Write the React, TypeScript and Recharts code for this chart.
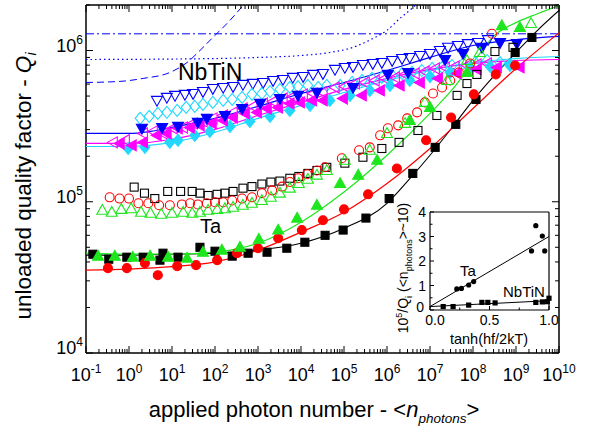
import React from 'react';
import { ComposedChart, Scatter, XAxis, YAxis } from 'recharts';

const FONT = '"Liberation Sans", Arial, Helvetica, sans-serif';
const BLUE = '#0000ff';
const CYAN = '#22d8ff';
const MAGENTA = '#ff00ff';
const GREEN = '#1ee61e';
const RED = '#ff0000';
const BLACK = '#000000';

// ---------------- main chart data (x stored as log10 of photon number) ----------------
// Ta, filled squares (black) + fit
const taSqFilledLogN = [-0.84, -0.47, -0.05, 0.33, 0.72, 0.79, 1.14, 1.65, 2.0, 2.4, 2.77, 3.21, 3.67, 4.09, 4.56, 4.98, 5.51, 6.05, 6.6, 7.12, 7.6, 8.07, 8.98, 9.37];
const taSqFilledQ = [4.5e4, 4.17e4, 4.3e4, 4.3e4, 4.11e4, 4.57e4, 4.3e4, 5.0e4, 4.71e4, 4.37e4, 4.57e4, 4.64e4, 4.93e4, 5.4e4, 6.0e4, 6.5e4, 7.8e4, 1.05e5, 1.54e5, 2.29e5, 3.25e5, 4.75e5, 9.7e5, 1.22e6];
const taSqFitLogN = [-1, 0, 1, 2, 3, 4, 5, 6, 6.5, 7, 7.5, 8, 8.5, 9, 9.5, 10];
const taSqFitQ = [4.44e4, 4.44e4, 4.5e4, 4.57e4, 4.79e4, 5.32e4, 6.68e4, 9.77e4, 1.39e5, 2.03e5, 3.06e5, 4.68e5, 6.84e5, 9.7e5, 1.36e6, 1.84e6];

// Ta, filled circles (red) + fit
const taCiFilledLogN = [-0.49, -0.05, 0.37, 0.67, 1.12, 1.56, 2.05, 2.51, 3.0, 3.47, 4.02, 4.51, 5.0, 5.56, 6.23, 6.91, 7.49, 8.02, 8.53, 8.98];
const taCiFilledQ = [3.64e4, 3.64e4, 3.93e4, 3.27e4, 3.75e4, 3.81e4, 4.11e4, 4.57e4, 4.93e4, 5.74e4, 6.5e4, 7.55e4, 8.91e4, 1.12e5, 1.66e5, 2.55e5, 3.61e5, 5.13e5, 6.95e5, 7.96e5];
const taCiFitLogN = [-1, 0, 1, 2, 3, 4, 5, 6, 7, 8, 9, 10];
const taCiFitQ = [3.53e4, 3.59e4, 3.72e4, 4.0e4, 4.79e4, 6.3e4, 8.53e4, 1.32e5, 2.25e5, 4.14e5, 7.6e5, 1.31e6];

// Ta, filled triangles (green) + fit
const taTrFilledLogN = [-0.72, -0.33, 0.09, 0.49, 0.91, 1.35, 1.72, 2.16, 2.58, 3.02, 3.47, 3.91, 4.37, 4.91, 5.33, 5.77, 6.53, 7.0, 7.86, 8.67, 9.09];
const taTrFilledQ = [4.37e4, 4.37e4, 4.3e4, 4.37e4, 4.3e4, 4.24e4, 4.64e4, 4.79e4, 5.0e4, 5.65e4, 6.5e4, 7.8e4, 9.48e4, 1.32e5, 1.5e5, 1.88e5, 3.45e5, 4.21e5, 7.16e5, 1.46e6, 1.42e6];
const taTrFitLogN = [-1, 0, 1, 2, 3, 4, 5, 6, 7, 7.5, 8, 8.5, 9, 9.5, 10];
const taTrFitQ = [4.57e4, 4.5e4, 4.5e4, 4.64e4, 5.32e4, 7.33e4, 1.16e5, 2.03e5, 3.84e5, 5.45e5, 8.3e5, 1.26e6, 1.53e6, 1.75e6, 1.98e6];

// Ta, open squares (black)
const taSqOpenLogN = [0.12, 0.36, 0.6, 0.9, 1.2, 1.47, 1.65, 1.84, 2.05, 2.23, 2.42, 2.65, 2.86, 3.09, 3.3, 3.51, 3.74, 3.95, 4.16, 4.37, 4.6, 5.02, 5.44, 5.88, 6.28, 6.72, 7.16, 7.63, 7.86, 8.09, 8.51, 8.93];
const taSqOpenQ = [1.25e5, 1.14e5, 1.05e5, 1.17e5, 1.17e5, 1.17e5, 1.14e5, 1.1e5, 1.12e5, 1.14e5, 1.17e5, 1.23e5, 1.26e5, 1.31e5, 1.35e5, 1.37e5, 1.43e5, 1.47e5, 1.54e5, 1.61e5, 1.69e5, 1.8e5, 1.97e5, 2.25e5, 2.47e5, 2.96e5, 3.72e5, 5.05e5, 6.05e5, 6.95e5, 9.85e5, 1.05e6];

// Ta, open circles (red)
const taCiOpenLogN = [-0.45, -0.22, 0.0, 0.22, 0.45, 0.7, 0.95, 1.23, 1.42, 1.6, 1.81, 2.0, 2.19, 2.4, 2.63, 2.86, 3.09, 3.33, 3.56, 3.74, 3.93, 4.14, 4.37, 4.56, 4.95, 5.35, 5.6, 5.84, 6.02, 6.26, 6.47, 6.7, 6.88, 7.07, 7.28, 7.47, 7.67, 7.93, 8.44];
const taCiOpenQ = [1.07e5, 1.05e5, 1.05e5, 9.77e4, 9.77e4, 9.48e4, 9.48e4, 9.6e4, 9.77e4, 9.6e4, 9.77e4, 9.93e4, 9.93e4, 1.02e5, 1.05e5, 1.07e5, 1.14e5, 1.19e5, 1.26e5, 1.35e5, 1.43e5, 1.52e5, 1.61e5, 1.69e5, 1.94e5, 2.19e5, 2.29e5, 2.75e5, 3.06e5, 3.2e5, 3.56e5, 3.9e5, 4.54e5, 5.2e5, 5.7e5, 6.34e5, 7.16e5, 8.2e5, 1.29e6];

// Ta, open triangles (green)
const taTrOpenLogN = [-0.62, -0.4, -0.18, 0.05, 0.28, 0.5, 0.75, 1.0, 1.26, 1.47, 1.65, 1.84, 2.05, 2.23, 2.42, 2.65, 2.86, 3.09, 3.3, 3.51, 3.74, 3.95, 4.16, 4.37, 4.6, 5.02, 5.6, 6.0, 6.42, 6.88, 7.4, 7.86, 8.16, 9.35];
const taTrOpenQ = [8.79e4, 8.53e4, 8.9e4, 9.0e4, 8.53e4, 8.4e4, 8.27e4, 8.4e4, 8.53e4, 8.4e4, 8.53e4, 8.79e4, 8.9e4, 9.0e4, 9.2e4, 9.48e4, 9.77e4, 1.02e5, 1.07e5, 1.14e5, 1.23e5, 1.32e5, 1.41e5, 1.5e5, 1.61e5, 1.88e5, 2.19e5, 2.83e5, 3.3e5, 4.54e5, 6.34e5, 8.59e5, 9.7e5, 1.51e6];

// NbTiN, open down triangles (blue)
const nbDnOpenLogN = [0.65, 0.88, 1.07, 1.3, 1.49, 1.72, 1.95, 2.19, 2.42, 2.65, 2.88, 3.12, 3.35, 3.58, 3.81, 4.05, 4.28, 4.51, 4.79, 5.02, 5.21, 5.44, 5.67, 5.88, 6.12, 6.35, 6.53, 6.77, 7.0, 7.23, 7.42, 7.65, 7.88, 8.12, 8.35];
const nbDnOpenQ = [4.68e5, 4.9e5, 5.05e5, 5.13e5, 5.2e5, 5.36e5, 5.61e5, 5.7e5, 5.78e5, 5.97e5, 6.06e5, 6.15e5, 6.34e5, 6.44e5, 6.64e5, 6.73e5, 6.95e5, 7.05e5, 7.5e5, 7.73e5, 7.84e5, 8.09e5, 8.21e5, 8.33e5, 8.59e5, 8.85e5, 9.0e5, 9.27e5, 9.56e5, 1.0e6, 1.05e6, 1.08e6, 1.11e6, 1.13e6, 1.18e6];

// NbTiN, filled down triangles (blue) + fit
const nbDnFilledLogN = [0.3, 0.77, 1.14, 1.6, 1.81, 2.23, 2.63, 3.05, 3.51, 3.93, 4.37, 5.21, 6.02, 6.49, 7.35, 7.77, 8.21, 8.63, 9.02];
const nbDnFilledQ = [3.06e5, 3.1e5, 3.15e5, 3.35e5, 3.56e5, 3.72e5, 4.14e5, 4.47e5, 4.82e5, 5.05e5, 5.3e5, 5.7e5, 6.95e5, 7.15e5, 8.7e5, 9.55e5, 1.05e6, 1.13e6, 1.11e6];
const nbBlueFitLogN = [-1, 0, 0.5, 1, 2, 3, 4, 5, 6, 7, 8, 9, 10];
const nbBlueFitQ = [2.83e5, 2.83e5, 2.92e5, 3.1e5, 3.56e5, 4.27e5, 5.2e5, 6.15e5, 7.38e5, 9.0e5, 1.08e6, 1.18e6, 1.24e6];

// NbTiN, open diamonds (cyan)
const nbDiOpenLogN = [0.26, 0.47, 0.67, 0.88, 1.12, 1.33, 1.53, 1.72, 1.95, 2.19, 2.4, 2.63, 2.86, 3.09, 3.28, 3.51, 3.74, 3.93, 4.16, 4.4, 4.6, 4.91, 5.19, 5.42, 5.65, 5.88, 6.12, 6.35, 6.58, 6.81, 7.05, 7.28, 7.51, 7.77, 8.05, 8.33, 8.63, 8.86];
const nbDiOpenQ = [3.56e5, 3.67e5, 3.84e5, 3.9e5, 4.02e5, 4.21e5, 4.27e5, 4.4e5, 4.54e5, 4.68e5, 4.75e5, 4.9e5, 5.13e5, 5.2e5, 5.36e5, 5.53e5, 5.7e5, 5.78e5, 5.88e5, 5.7e5, 5.88e5, 5.88e5, 6.15e5, 6.34e5, 6.54e5, 6.64e5, 6.84e5, 7.05e5, 7.16e5, 7.38e5, 7.61e5, 7.73e5, 7.96e5, 8.21e5, 8.33e5, 8.59e5, 8.33e5, 7.96e5];

// NbTiN, filled diamonds (cyan) + fit
const nbDiFilledLogN = [-0.02, 0.37, 0.95, 1.14, 1.53, 1.88, 2.35, 2.81, 3.28, 3.74, 4.21, 4.67, 5.14, 5.6, 6.07, 6.53, 7.0, 7.47, 7.93, 8.4, 8.86];
const nbDiFilledQ = [2.25e5, 2.29e5, 2.47e5, 2.55e5, 2.75e5, 2.92e5, 3.15e5, 3.4e5, 3.67e5, 4.02e5, 4.34e5, 4.68e5, 5.05e5, 5.45e5, 5.88e5, 6.34e5, 6.73e5, 7.16e5, 7.61e5, 7.84e5, 8.09e5];
const nbCyanFitLogN = [-1, 0, 1, 2, 3, 4, 5, 6, 7, 8, 9, 10];
const nbCyanFitQ = [2.32e5, 2.32e5, 2.47e5, 2.88e5, 3.56e5, 4.34e5, 5.28e5, 6.34e5, 7.38e5, 8.33e5, 8.85e5, 9.13e5];

// NbTiN, open left triangles (magenta)
const nbLtOpenLogN = [-0.37, -0.09, 0.33, 0.56, 0.79, 1.02, 1.26, 1.49, 1.72, 1.95, 2.19, 2.42, 2.65, 2.88, 3.12, 3.35, 3.58, 3.81, 4.05, 4.28, 4.51, 4.79, 5.02, 5.26, 5.49, 5.72, 5.95, 6.19, 6.42, 6.65, 6.88, 7.12, 7.35, 7.58, 7.86, 8.09, 8.33];
const nbLtOpenQ = [2.47e5, 2.55e5, 2.83e5, 2.92e5, 2.83e5, 3.06e5, 3.1e5, 3.3e5, 3.4e5, 3.56e5, 3.72e5, 3.9e5, 4.14e5, 4.27e5, 4.47e5, 4.6e5, 4.82e5, 4.97e5, 5.13e5, 5.2e5, 5.28e5, 5.7e5, 5.78e5, 6.06e5, 6.15e5, 6.34e5, 6.54e5, 6.64e5, 6.95e5, 7.05e5, 7.27e5, 7.61e5, 7.73e5, 7.84e5, 7.96e5, 8.09e5, 8.21e5];

// NbTiN, filled left triangles (magenta) + fit
const nbLtFilledLogN = [-0.21, 0.07, 0.33, 0.65, 0.88, 1.14, 1.42, 1.65, 1.93, 2.19, 2.42, 2.7, 2.98, 3.21, 3.47, 3.74, 3.98, 4.26, 4.51, 4.98, 5.42, 5.84, 6.3, 6.77, 7.19, 7.63, 8.09, 8.56, 9.09];
const nbLtFilledQ = [2.43e5, 2.36e5, 2.47e5, 2.75e5, 2.83e5, 3.06e5, 3.1e5, 3.2e5, 3.3e5, 3.45e5, 3.61e5, 3.84e5, 3.9e5, 4.14e5, 4.2e5, 4.47e5, 4.54e5, 4.68e5, 4.68e5, 4.82e5, 5.05e5, 5.45e5, 5.88e5, 6.15e5, 6.54e5, 7.05e5, 7.5e5, 7.73e5, 7.73e5];
const nbMagFitLogN = [-1, 0, 1, 2, 3, 4, 5, 6, 7, 8, 9, 10];
const nbMagFitQ = [2.43e5, 2.43e5, 2.59e5, 3.01e5, 3.72e5, 4.54e5, 5.53e5, 6.54e5, 7.5e5, 8.21e5, 8.59e5, 8.72e5];

// NbTiN model curves (blue dashed / dotted / dash-dot)
const nbDashLogN = [-1, -0.21, 0.33, 0.95, 1.35, 1.65, 1.95, 2.28, 2.65, 2.9];
const nbDashQ = [6.15e5, 6.25e5, 6.54e5, 7.16e5, 8.33e5, 1.0e6, 1.22e6, 1.51e6, 1.98e6, 2.4e6];
const nbDotLogN = [-1, 2, 3, 4, 4.67, 5.21, 5.67, 6.0, 6.3, 6.6, 6.77];
const nbDotQ = [8.72e5, 8.85e5, 9.0e5, 9.27e5, 9.7e5, 1.05e6, 1.2e6, 1.36e6, 1.63e6, 1.92e6, 2.14e6];
const nbDashDotLogN = [-1, 10];
const nbDashDotQ = [1.29e6, 1.29e6];

// ---------------- inset data ----------------
const insetTaX = [0.225, 0.264, 0.325, 0.367, 0.853, 0.889, 0.944, 0.964];
const insetTaY = [0.86, 0.88, 1.02, 1.16, 2.41, 3.44, 3.02, 2.41];
const insetNbX = [0.111, 0.194, 0.325, 0.436, 0.486, 0.547, 0.889, 0.944, 0.986, 1.0];
const insetNbY = [0.14, 0.14, 0.2, 0.31, 0.31, 0.29, 0.31, 0.33, 0.34, 0.48];
const insetTaFitX = [0, 1];
const insetTaFitY = [0.14, 3.0];
const insetNbFitX = [0, 1];
const insetNbFitY = [0.14, 0.38];

// ---------------- ticks ----------------
const xMajorExp = [-1, 0, 1, 2, 3, 4, 5, 6, 7, 8, 9, 10];
const yMajorExp = [4, 5, 6];
const minorMult = [2, 3, 4, 5, 6, 7, 8, 9];
const xTicks: number[] = [];
xMajorExp.forEach((e) => {
  xTicks.push(Math.pow(10, e));
  if (e < 10) minorMult.forEach((m) => xTicks.push(m * Math.pow(10, e)));
});
const yTicks: number[] = [];
yMajorExp.forEach((e) => {
  yTicks.push(Math.pow(10, e));
  minorMult.forEach((m) => {
    const v = m * Math.pow(10, e);
    if (v <= 2e6) yTicks.push(v);
  });
});
const insetXTicks = [0, 0.25, 0.5, 0.75, 1];
const insetXLabels = ['0.0', '', '0.5', '', '1.0'];
const insetYTicks = [0, 0.5, 1, 1.5, 2, 2.5, 3, 3.5, 4];

const isMajor = (v: number) => {
  const l = Math.log10(v);
  return Math.abs(l - Math.round(l)) < 1e-6;
};

const toPts = (logN: number[], q: number[]) => logN.map((l, i) => ({ x: Math.pow(10, l), y: q[i] }));
const toXY = (xs: number[], ys: number[]) => xs.map((x, i) => ({ x, y: ys[i] }));

// ---------------- marker shapes ----------------
type Kind = 'square' | 'circle' | 'up' | 'down' | 'left' | 'diamond' | 'dot' | 'smallsq';
const marker = (kind: Kind, color: string, filled: boolean) => (p: any) => {
  const { cx, cy } = p;
  if (typeof cx !== 'number' || typeof cy !== 'number' || isNaN(cx) || isNaN(cy)) return <g />;
  const st = { fill: filled ? color : 'none', stroke: color, strokeWidth: 1.1 };
  switch (kind) {
    case 'square':
      return <rect x={cx - 4} y={cy - 4} width={8} height={8} {...st} />;
    case 'circle':
      return <circle cx={cx} cy={cy} r={4.5} {...st} />;
    case 'up':
      return <polygon points={`${cx},${cy - 5.8} ${cx + 5.5},${cy + 4} ${cx - 5.5},${cy + 4}`} {...st} />;
    case 'down':
      return <polygon points={`${cx - 5.5},${cy - 4} ${cx + 5.5},${cy - 4} ${cx},${cy + 5.8}`} {...st} />;
    case 'left':
      return <polygon points={`${cx - 5.8},${cy} ${cx + 4.2},${cy - 5.5} ${cx + 4.2},${cy + 5.5}`} {...st} />;
    case 'diamond':
      return <polygon points={`${cx},${cy - 6} ${cx + 5},${cy} ${cx},${cy + 6} ${cx - 5},${cy}`} {...st} />;
    case 'dot':
      return <circle cx={cx} cy={cy} r={2.6} fill={color} stroke="none" />;
    case 'smallsq':
      return <rect x={cx - 2.6} y={cy - 2.6} width={5.2} height={5.2} fill={color} stroke="none" />;
  }
  return <g />;
};
const noShape = () => <g />;

// ---------------- tick renderers (main) ----------------
const BottomTick = (p: any) => {
  const { x, y, payload } = p;
  const v = payload.value;
  const maj = isMajor(v);
  const e = Math.round(Math.log10(v));
  return (
    <g>
      <line x1={x} y1={y} x2={x} y2={y - (maj ? 7 : 4)} stroke="#000" strokeWidth={1} />
      {maj && (
        <text x={x} y={y + 28} textAnchor="middle" fontFamily={FONT} fontSize={18} fill="#000">
          10<tspan dy={-8} fontSize={12}>{String(e)}</tspan>
        </text>
      )}
    </g>
  );
};
const TopTick = (p: any) => {
  const { x, y, payload } = p;
  const maj = isMajor(payload.value);
  return <line x1={x} y1={y} x2={x} y2={y + (maj ? 7 : 4)} stroke="#000" strokeWidth={1} />;
};
const LeftTick = (p: any) => {
  const { x, y, payload } = p;
  const v = payload.value;
  const maj = isMajor(v);
  const e = Math.round(Math.log10(v));
  return (
    <g>
      <line x1={x} y1={y} x2={x + (maj ? 7 : 4)} y2={y} stroke="#000" strokeWidth={1} />
      {maj && (
        <text x={x - 3} y={y + 1} textAnchor="end" fontFamily={FONT} fontSize={18} fill="#000">
          10<tspan dy={-8} fontSize={12}>{String(e)}</tspan>
        </text>
      )}
    </g>
  );
};
const RightTick = (p: any) => {
  const { x, y, payload } = p;
  const maj = isMajor(payload.value);
  return <line x1={x} y1={y} x2={x - (maj ? 7 : 4)} y2={y} stroke="#000" strokeWidth={1} />;
};

// ---------------- tick renderers (inset) ----------------
const InsetBottomTick = (p: any) => {
  const { x, y, index } = p;
  const lab = insetXLabels[index] || '';
  return (
    <g>
      <line x1={x} y1={y} x2={x} y2={y - (lab ? 4 : 2.5)} stroke="#000" strokeWidth={1} />
      {lab && (
        <text x={x + (index === 0 ? 5 : 0)} y={y + 15} textAnchor="middle" fontFamily={FONT} fontSize={14} fill="#000">
          {lab}
        </text>
      )}
    </g>
  );
};
const InsetTopTick = (p: any) => {
  const { x, y, index } = p;
  const lab = insetXLabels[index] || '';
  return <line x1={x} y1={y} x2={x} y2={y + (lab ? 4 : 2.5)} stroke="#000" strokeWidth={1} />;
};
const InsetLeftTick = (p: any) => {
  const { x, y, payload } = p;
  const v = payload.value;
  const maj = Number.isInteger(v);
  return (
    <g>
      <line x1={x} y1={y} x2={x + (maj ? 4 : 2.5)} y2={y} stroke="#000" strokeWidth={1} />
      {maj && (
        <text x={x - (v === 0 ? 6 : 4)} y={y + (v === 0 ? 2 : 5)} textAnchor="end" fontFamily={FONT} fontSize={14} fill="#000">
          {String(v)}
        </text>
      )}
    </g>
  );
};
const InsetRightTick = (p: any) => {
  const { x, y, payload } = p;
  const maj = Number.isInteger(payload.value);
  return <line x1={x} y1={y} x2={x - (maj ? 4 : 2.5)} y2={y} stroke="#000" strokeWidth={1} />;
};

const axisLine = { stroke: '#000', strokeWidth: 1.5 };
const insetAxisLine = { stroke: '#000', strokeWidth: 1.2 };

// ---------------- series tables ----------------
const curveSeries = [
  { id: 'dashdot', data: toPts(nbDashDotLogN, nbDashDotQ), color: BLUE, dash: '8 3 2 3', w: 1 },
  { id: 'dotted', data: toPts(nbDotLogN, nbDotQ), color: BLUE, dash: '1.5 3', w: 1.2 },
  { id: 'dashed', data: toPts(nbDashLogN, nbDashQ), color: BLUE, dash: '7 4', w: 1 },
  { id: 'blueFit', data: toPts(nbBlueFitLogN, nbBlueFitQ), color: BLUE, dash: undefined, w: 1.2 },
  { id: 'cyanFit', data: toPts(nbCyanFitLogN, nbCyanFitQ), color: CYAN, dash: undefined, w: 1.2 },
  { id: 'magFit', data: toPts(nbMagFitLogN, nbMagFitQ), color: MAGENTA, dash: undefined, w: 1.2 },
  { id: 'blackFit', data: toPts(taSqFitLogN, taSqFitQ), color: BLACK, dash: undefined, w: 1.1 },
  { id: 'redFit', data: toPts(taCiFitLogN, taCiFitQ), color: RED, dash: undefined, w: 1.2 },
  { id: 'greenFit', data: toPts(taTrFitLogN, taTrFitQ), color: GREEN, dash: undefined, w: 1.2 },
];

const markerSeries = [
  { id: 'nbDnOpen', data: toPts(nbDnOpenLogN, nbDnOpenQ), shape: marker('down', BLUE, false) },
  { id: 'nbDiOpen', data: toPts(nbDiOpenLogN, nbDiOpenQ), shape: marker('diamond', CYAN, false) },
  { id: 'nbLtOpen', data: toPts(nbLtOpenLogN, nbLtOpenQ), shape: marker('left', MAGENTA, false) },
  { id: 'nbDiFilled', data: toPts(nbDiFilledLogN, nbDiFilledQ), shape: marker('diamond', CYAN, true) },
  { id: 'nbLtFilled', data: toPts(nbLtFilledLogN, nbLtFilledQ), shape: marker('left', MAGENTA, true) },
  { id: 'nbDnFilled', data: toPts(nbDnFilledLogN, nbDnFilledQ), shape: marker('down', BLUE, true) },
  { id: 'taSqOpen', data: toPts(taSqOpenLogN, taSqOpenQ), shape: marker('square', BLACK, false) },
  { id: 'taCiOpen', data: toPts(taCiOpenLogN, taCiOpenQ), shape: marker('circle', RED, false) },
  { id: 'taTrOpen', data: toPts(taTrOpenLogN, taTrOpenQ), shape: marker('up', GREEN, false) },
  { id: 'taSqFilled', data: toPts(taSqFilledLogN, taSqFilledQ), shape: marker('square', BLACK, true) },
  { id: 'taCiFilled', data: toPts(taCiFilledLogN, taCiFilledQ), shape: marker('circle', RED, true) },
  { id: 'taTrFilled', data: toPts(taTrFilledLogN, taTrFilledQ), shape: marker('up', GREEN, true) },
];

export default function App() {
  return (
    <div style={{ position: 'absolute', left: 0, top: 0, width: 600, height: 432, background: '#fff', overflow: 'hidden' }}>
      <div style={{ position: 'absolute', left: 0, top: 0 }}>
        <ComposedChart width={600} height={432} margin={{ top: 4, right: 40, bottom: 49, left: 26 }}>
          <XAxis xAxisId="b" type="number" dataKey="x" scale="log" domain={[0.1, 1e10]} allowDataOverflow ticks={xTicks} interval={0} height={30} tickSize={0} tickMargin={0} tickLine={false} tick={<BottomTick />} axisLine={axisLine} />
          <XAxis xAxisId="t" orientation="top" type="number" dataKey="x" scale="log" domain={[0.1, 1e10]} allowDataOverflow ticks={xTicks} interval={0} height={1} tickSize={0} tickMargin={0} tickLine={false} tick={<TopTick />} axisLine={axisLine} />
          <YAxis yAxisId="l" type="number" dataKey="y" scale="log" domain={[1e4, 2e6]} allowDataOverflow ticks={yTicks} interval={0} width={60} tickSize={0} tickMargin={0} tickLine={false} tick={<LeftTick />} axisLine={axisLine} />
          <YAxis yAxisId="r" orientation="right" type="number" dataKey="y" scale="log" domain={[1e4, 2e6]} allowDataOverflow ticks={yTicks} interval={0} width={1} tickSize={0} tickMargin={0} tickLine={false} tick={<RightTick />} axisLine={axisLine} />
          {curveSeries.map((s) => (
            <Scatter key={s.id} xAxisId="b" yAxisId="l" data={s.data} shape={noShape} line={{ stroke: s.color, strokeWidth: s.w, strokeDasharray: s.dash, fill: 'none' }} lineJointType="monotoneX" isAnimationActive={false} />
          ))}
          {markerSeries.map((s) => (
            <Scatter key={s.id} xAxisId="b" yAxisId="l" data={s.data} shape={s.shape} isAnimationActive={false} />
          ))}
        </ComposedChart>
      </div>

      <div style={{ position: 'absolute', left: 380, top: 190 }}>
        <ComposedChart width={200} height={170} margin={{ top: 21, right: 30, bottom: 20, left: 20 }}>
          <XAxis xAxisId="b" type="number" dataKey="x" domain={[0, 1]} ticks={insetXTicks} interval={0} height={30} tickSize={0} tickMargin={0} tickLine={false} tick={<InsetBottomTick />} axisLine={insetAxisLine} />
          <XAxis xAxisId="t" orientation="top" type="number" dataKey="x" domain={[0, 1]} ticks={insetXTicks} interval={0} height={1} tickSize={0} tickMargin={0} tickLine={false} tick={<InsetTopTick />} axisLine={insetAxisLine} />
          <YAxis yAxisId="l" type="number" dataKey="y" domain={[0, 4]} ticks={insetYTicks} interval={0} width={30} tickSize={0} tickMargin={0} tickLine={false} tick={<InsetLeftTick />} axisLine={insetAxisLine} />
          <YAxis yAxisId="r" orientation="right" type="number" dataKey="y" domain={[0, 4]} ticks={insetYTicks} interval={0} width={1} tickSize={0} tickMargin={0} tickLine={false} tick={<InsetRightTick />} axisLine={insetAxisLine} />
          <Scatter xAxisId="b" yAxisId="l" data={toXY(insetTaFitX, insetTaFitY)} shape={noShape} line={{ stroke: '#000', strokeWidth: 1, fill: 'none' }} isAnimationActive={false} />
          <Scatter xAxisId="b" yAxisId="l" data={toXY(insetNbFitX, insetNbFitY)} shape={noShape} line={{ stroke: '#000', strokeWidth: 1, fill: 'none' }} isAnimationActive={false} />
          <Scatter xAxisId="b" yAxisId="l" data={toXY(insetTaX, insetTaY)} shape={marker('dot', '#000', true)} isAnimationActive={false} />
          <Scatter xAxisId="b" yAxisId="l" data={toXY(insetNbX, insetNbY)} shape={marker('smallsq', '#000', true)} isAnimationActive={false} />
        </ComposedChart>
      </div>

      <svg width={600} height={432} style={{ position: 'absolute', left: 0, top: 0, pointerEvents: 'none' }} fontFamily={FONT}>
        <text x={314} y={417} textAnchor="middle" fontSize={22} fill="#000">
          applied photon number - &lt;<tspan fontStyle="italic">n</tspan>
          <tspan fontStyle="italic" fontSize={13.5} dy={6}>photons</tspan>
          <tspan dy={-6}>&gt;</tspan>
        </text>
        <text transform="translate(31,186) rotate(-90)" textAnchor="middle" fontSize={22.5} fill="#000">
          unloaded quality factor - <tspan fontStyle="italic">Q</tspan>
          <tspan fontStyle="italic" fontSize={14} dy={5}>i</tspan>
        </text>
        <text x={178} y={80} fontSize={23} fill="#000">NbTiN</text>
        <text x={200} y={233} fontSize={20} fill="#000">Ta</text>

        <text x={489} y={344} textAnchor="middle" fontSize={14.5} fill="#000">tanh(hf/2kT)</text>
        <text transform="translate(408,268) rotate(-90)" textAnchor="middle" fontSize={14} fill="#000">
          10<tspan dy={-6} fontSize={9}>5</tspan>
          <tspan dy={6}>/Q</tspan>
          <tspan dy={4} fontSize={9}>i</tspan>
          <tspan dy={-4}> (&lt;n</tspan>
          <tspan dy={4} fontSize={9}>photons</tspan>
          <tspan dy={-4}>&gt;~10)</tspan>
        </text>
        <text x={460} y={276} fontSize={15} fill="#000">Ta</text>
        <text x={503} y={297} fontSize={15} fill="#000">NbTiN</text>
      </svg>
    </div>
  );
}
